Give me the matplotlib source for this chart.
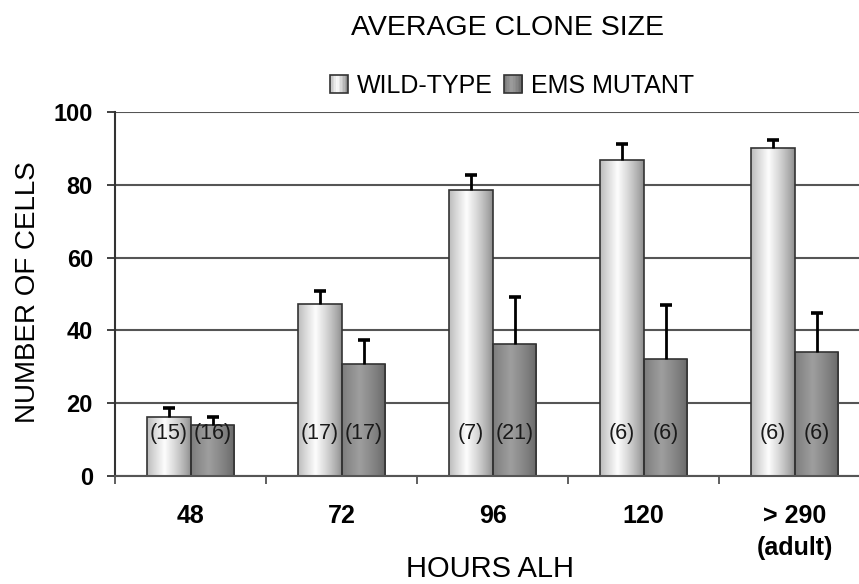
import matplotlib

matplotlib.use("Agg")
import matplotlib.pyplot as plt
import numpy as np
from matplotlib.legend_handler import HandlerBase
from matplotlib.patches import Rectangle

plt.rcParams["font.family"] = ["Liberation Sans", "DejaVu Sans"]

categories = ["48", "72", "96", "120", "> 290\n(adult)"]
wild_type = [16.2, 47.3, 78.6, 86.8, 90.1]
wild_type_err = [2.5, 3.5, 4.1, 4.4, 2.2]
mutant = [14.0, 30.8, 36.3, 32.1, 34.0]
mutant_err = [2.2, 6.6, 12.9, 14.9, 10.8]
wild_type_n = ["(15)", "(17)", "(7)", "(6)", "(6)"]
mutant_n = ["(16)", "(17)", "(21)", "(6)", "(6)"]

WT_SHADE = (0.55, 0.99)
MU_SHADE = (0.40, 0.62)


def shade_profile(edge, center, n=64):
    # cylinder-like horizontal shading, brightest a bit left of centre
    t = np.linspace(0, 1, n)
    prof = np.clip(1 - np.abs(t - 0.4) / 0.6, 0, 1) ** 0.8
    return np.tile(edge + (center - edge) * prof, (2, 1))


def shade_bars(ax, bars, edge, center):
    img = shade_profile(edge, center)
    for b in bars:
        x0, y0 = b.get_x(), b.get_y()
        w, h = b.get_width(), b.get_height()
        im = ax.imshow(img, cmap="gray", vmin=0, vmax=1, aspect="auto",
                       extent=(x0, x0 + w, y0, y0 + h), zorder=2.5,
                       interpolation="bilinear")
        im.set_clip_path(b)


class ShadedBox(HandlerBase):
    def __init__(self, edge, center):
        super().__init__()
        self.edge, self.center = edge, center

    def create_artists(self, legend, orig_handle, xdescent, ydescent,
                       width, height, fontsize, trans):
        s = min(width, height)
        x0 = -xdescent + (width - s) / 2
        y0 = -ydescent + (height - s) / 2
        artists = []
        n = 12
        prof = shade_profile(self.edge, self.center, n)[0]
        for i in range(n):
            artists.append(Rectangle((x0 + s * i / n, y0), s / n + 0.3, s,
                                     facecolor=str(prof[i]), edgecolor="none",
                                     transform=trans))
        artists.append(Rectangle((x0, y0), s, s, facecolor="none",
                                 edgecolor="#333333", linewidth=1.2,
                                 transform=trans))
        return artists


def draw_errors(ax, xs, vals, errs):
    for xi, v, e in zip(xs, vals, errs):
        ax.plot([xi, xi], [v, v + e], color="black", linewidth=2.0,
                zorder=4, solid_capstyle="butt")
        ax.plot([xi], [v + e], marker="_", markersize=9, mew=2.6,
                color="black", zorder=4)


def main():
    fig = plt.figure(figsize=(8.59, 5.84), dpi=100)
    ax = fig.add_axes([0.134, 0.185, 0.879, 0.623])

    x = np.arange(len(categories))
    width = 0.29
    wt_bars = ax.bar(x - width / 2, wild_type, width, facecolor="none",
                     edgecolor="#333333", linewidth=1.2, zorder=3)
    mu_bars = ax.bar(x + width / 2, mutant, width, facecolor="none",
                     edgecolor="#333333", linewidth=1.2, zorder=3)
    shade_bars(ax, wt_bars, *WT_SHADE)
    shade_bars(ax, mu_bars, *MU_SHADE)

    draw_errors(ax, x - width / 2, wild_type, wild_type_err)
    draw_errors(ax, x + width / 2, mutant, mutant_err)

    for i in range(len(categories)):
        ax.text(x[i] - width / 2, 11.8, wild_type_n[i], ha="center",
                va="center", fontsize=15.5, color="#1a1a1a", zorder=5)
        ax.text(x[i] + width / 2, 11.8, mutant_n[i], ha="center",
                va="center", fontsize=15.5, color="#1a1a1a", zorder=5)

    ax.set_xlim(-0.5, len(categories) - 0.5)
    ax.set_ylim(0, 100)
    ax.set_yticks([0, 20, 40, 60, 80, 100])
    ax.set_yticklabels(["0", "20", "40", "60", "80", "100"], fontsize=17,
                       fontweight="bold")
    ax.set_xticks(x)
    ax.set_xticklabels(categories, fontsize=18, fontweight="bold",
                       va="top", linespacing=1.45)
    ax.set_xticks(np.arange(len(categories) + 1) - 0.5, minor=True)
    ax.tick_params(axis="x", which="major", length=0, pad=20)
    ax.tick_params(axis="x", which="minor", length=6, width=1.2,
                   color="#444444")
    ax.tick_params(axis="y", length=6, width=1.3, color="#333333", pad=10)

    ax.grid(axis="y", color="#555555", linewidth=1.5, zorder=0)
    ax.set_axisbelow(True)
    for side in ["top", "right"]:
        ax.spines[side].set_visible(False)
    ax.spines["left"].set_color("#333333")
    ax.spines["left"].set_linewidth(1.5)
    ax.spines["bottom"].set_color("#555555")
    ax.spines["bottom"].set_linewidth(1.5)
    ax.spines["bottom"].set_zorder(6)

    fig.text(0.033, 0.50, "NUMBER OF CELLS", rotation=90, ha="center",
             va="center", fontsize=20)
    fig.text(0.570, 0.025, "HOURS ALH", ha="center", va="center",
             fontsize=21)
    fig.text(0.591, 0.952, "AVERAGE CLONE SIZE", ha="center", va="center",
             fontsize=20.5)

    h_wt = Rectangle((0, 0), 1, 1, label="WILD-TYPE")
    h_mu = Rectangle((0, 0), 1, 1, label="EMS MUTANT")
    fig.legend(handles=[h_wt, h_mu], loc="center",
               bbox_to_anchor=(0.596, 0.853), ncol=2, frameon=False,
               fontsize=18, handlelength=0.75, handleheight=0.75,
               handletextpad=0.35, columnspacing=0.45,
               handler_map={h_wt: ShadedBox(*WT_SHADE),
                            h_mu: ShadedBox(*MU_SHADE)})

    fig.savefig("out.png", dpi=100)
    plt.close(fig)


if __name__ == "__main__":
    main()
